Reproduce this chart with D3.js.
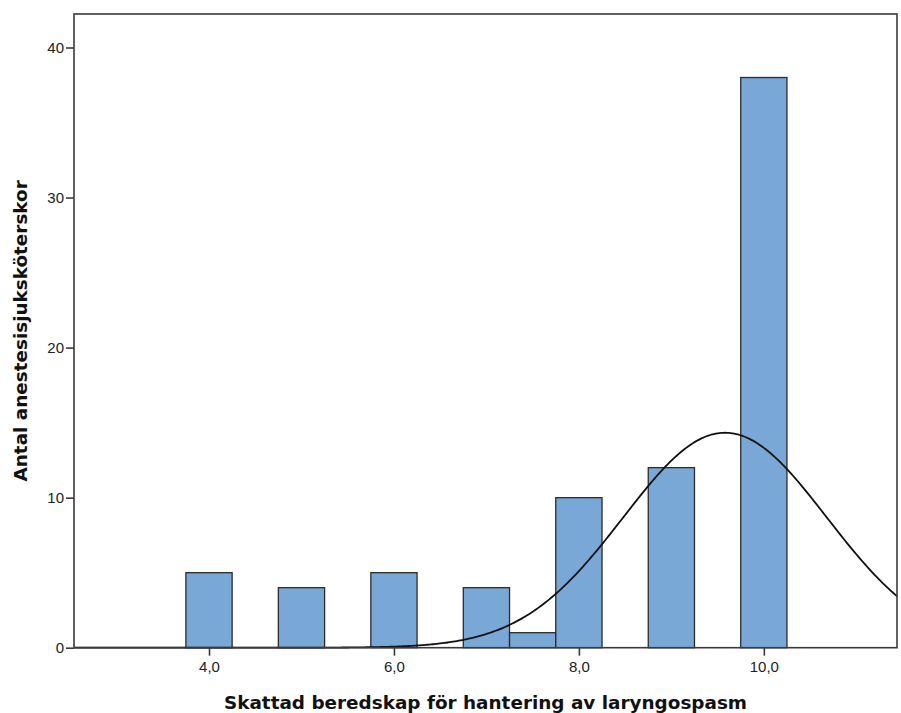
<!DOCTYPE html>
<html><head><meta charset="utf-8">
<script src="https://cdn.jsdelivr.net/npm/d3@7/dist/d3.min.js"></script>
<style>body{margin:0;background:#fff}svg{display:block}</style>
</head><body>
<script>
// Histogram bins (bin centres) and counts
const binCenters = [4.0, 5.0, 6.0, 7.0, 7.5, 8.0, 9.0, 10.0];
const binCounts  = [5, 4, 5, 4, 1, 10, 12, 38];
const binWidth = 0.5;
// Fitted normal curve parameters
const curveMean = [9.58];
const curveSd = [1.10];
const xTicks = [4, 6, 8, 10];
const yTicks = [0, 10, 20, 30, 40];
const xTitle = "Skattad beredskap för hantering av laryngospasm";
const yTitle = "Antal anestesisjuksköterskor";

const W = 901, H = 713;
const m = {left: 74, right: 4, top: 14, bottom: 65};
const svg = d3.select("body").append("svg").attr("width", W).attr("height", H);

const x = d3.scaleLinear().domain([2.54, 11.44]).range([m.left, W - m.right]);
const y = d3.scaleLinear().domain([0, 40]).range([647.7, 47.5]);
const yBottom = y(0);

// bars
svg.append("g").selectAll("rect").data(binCenters).join("rect")
  .attr("x", (d) => x(d - binWidth / 2))
  .attr("width", x(binWidth) - x(0))
  .attr("y", (d, i) => y(binCounts[i]))
  .attr("height", (d, i) => yBottom - y(binCounts[i]))
  .attr("fill", "#7aa8d6").attr("stroke", "#2b2b2b").attr("stroke-width", 1.3);

// normal curve
const N = d3.sum(binCounts);
const mu = curveMean[0], sd = curveSd[0];
const dens = (v) => N * binWidth / (sd * Math.sqrt(2 * Math.PI)) * Math.exp(-0.5 * ((v - mu) / sd) ** 2);
const xs = d3.range(x.domain()[0], x.domain()[1] + 0.001, 0.02);
svg.append("path").datum(xs)
  .attr("d", d3.line().x((v) => x(v)).y((v) => y(dens(v))))
  .attr("fill", "none").attr("stroke", "#111").attr("stroke-width", 1.8);

// frame
svg.append("rect").attr("x", m.left).attr("y", m.top)
  .attr("width", W - m.right - m.left).attr("height", yBottom - m.top)
  .attr("fill", "none").attr("stroke", "#3a3a3a").attr("stroke-width", 1.6);

// axes
const yAxis = d3.axisLeft(y).tickValues(yTicks).tickSize(8).tickPadding(2).tickFormat(d3.format("d"));
const gy = svg.append("g").attr("transform", `translate(${m.left},0)`).call(yAxis);
const xAxis = d3.axisBottom(x).tickValues(xTicks).tickSize(8).tickPadding(6)
  .tickFormat((d) => d3.format(".1f")(d).replace(".", ","));
const gx = svg.append("g").attr("transform", `translate(0,${yBottom})`).call(xAxis);
[gx, gy].forEach((g) => {
  g.attr("font-size", null).attr("font-family", null);
  g.select(".domain").remove();
  g.selectAll(".tick line").attr("stroke", "#3a3a3a").attr("stroke-width", 1.6);
  g.selectAll(".tick text").attr("fill", "#222").style("font-family", "'Liberation Sans', Arial, sans-serif").style("font-size", "15px");
});

// titles
svg.append("text").attr("x", (m.left + W - m.right) / 2).attr("y", 709)
  .attr("text-anchor", "middle").style("font-family", "'DejaVu Sans', Verdana, sans-serif")
  .style("font-weight", "bold").style("font-size", "18.4px").attr("fill", "#111").text(xTitle);
svg.append("text").attr("transform", `translate(27,${(m.top + yBottom) / 2}) rotate(-90)`)
  .attr("text-anchor", "middle").style("font-family", "'DejaVu Sans', Verdana, sans-serif")
  .style("font-weight", "bold").style("font-size", "18.4px").attr("fill", "#111").text(yTitle);
</script>
</body></html>
